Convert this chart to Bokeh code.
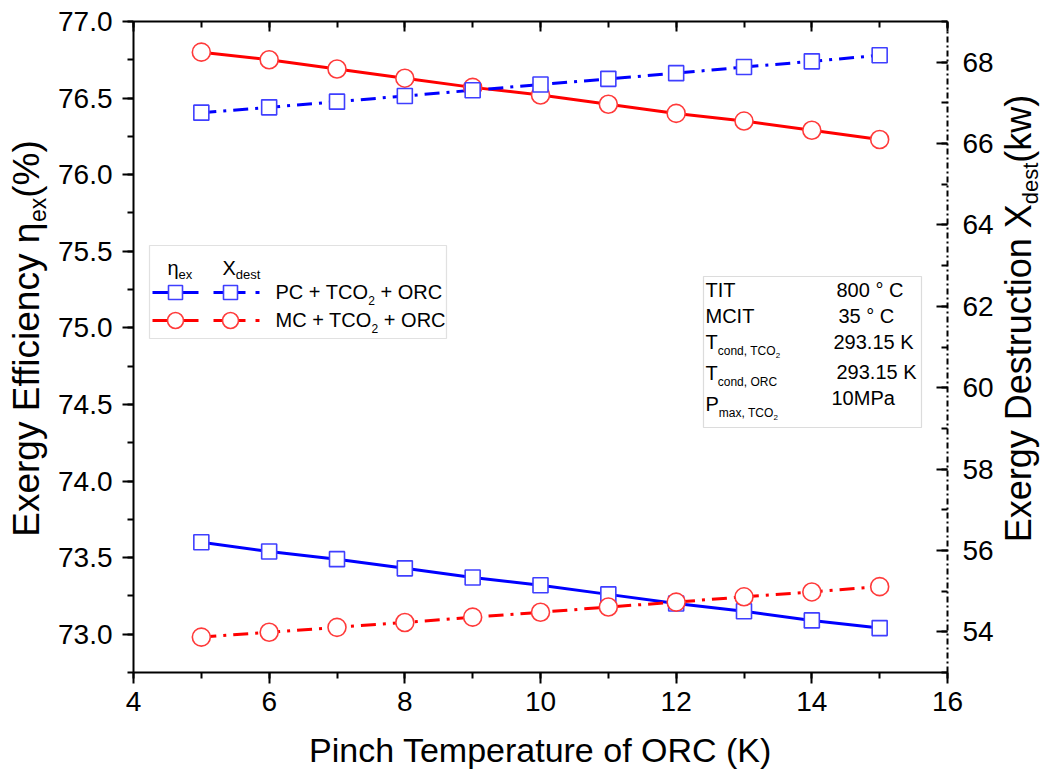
import math
from bokeh.plotting import figure
from bokeh.models import (Range1d, LinearAxis, SingleIntervalTicker, Label, BoxAnnotation,
                          CustomJSTickFormatter, NumeralTickFormatter)
from bokeh.embed import file_html
from bokeh.resources import INLINE

# ---------------- data ----------------
pinch = [5, 6, 7, 8, 9, 10, 11, 12, 13, 14, 15]
eta_pc = [73.60, 73.54, 73.49, 73.43, 73.37, 73.32, 73.26, 73.20, 73.15, 73.09, 73.04]
eta_mc = [76.80, 76.75, 76.69, 76.63, 76.57, 76.52, 76.46, 76.40, 76.35, 76.29, 76.23]
xdest_pc = [66.76, 66.89, 67.03, 67.17, 67.31, 67.45, 67.59, 67.73, 67.88, 68.02, 68.17]
xdest_mc = [53.87, 53.99, 54.11, 54.23, 54.36, 54.48, 54.61, 54.73, 54.86, 54.98, 55.11]

x_ticks = [4, 6, 8, 10, 12, 14, 16]
left_ticks = [73.0, 73.5, 74.0, 74.5, 75.0, 75.5, 76.0, 76.5, 77.0]
right_ticks = [54, 56, 58, 60, 62, 64, 66, 68]

info_names = ["TIT", "MCIT"]
info_values = ["800 ° C", "35 ° C", "293.15 K", "293.15 K", "10MPa"]

# ---------------- layout ----------------
FONT = "Liberation Sans"
W, H = 1043, 775
FL, FT, FW, FH = 133, 21, 814, 651          # the axes box in page pixels
XMIN, XMAX = 4, 16
YMIN, YMAX = 72.75, 77.0
RMIN, RMAX = 53, 69


def ext(lo, hi, before, size, after):
    per = (hi - lo) / size
    return lo - before * per, hi + after * per


x0, x1 = ext(XMIN, XMAX, FL, FW, W - FL - FW)
y0, y1 = ext(YMIN, YMAX, H - FT - FH, FH, FT)
r0, r1 = ext(RMIN, RMAX, H - FT - FH, FH, FT)

BLUE = "#0000FF"
RED = "#FF0000"
BLUE_M = "#3f3fff"
RED_M = "#ff3a3a"

p = figure(width=W, height=H, x_range=Range1d(x0, x1), y_range=Range1d(y0, y1),
           output_backend="svg", toolbar_location=None, title=None,
           x_axis_location=None, y_axis_location=None, min_border=0)
p.extra_y_ranges = {"right": Range1d(r0, r1)}
p.xgrid.visible = False
p.ygrid.visible = False
p.outline_line_color = None
p.background_fill_color = "white"
p.border_fill_color = "white"


def style_axis(ax, tin, tout, min_in, min_out, size="28px"):
    ax.axis_line_color = "black"
    ax.axis_line_width = 2
    ax.major_tick_line_color = "black"
    ax.major_tick_line_width = 2
    ax.minor_tick_line_color = "black"
    ax.minor_tick_line_width = 2
    ax.major_tick_in = tin
    ax.major_tick_out = tout
    ax.minor_tick_in = min_in
    ax.minor_tick_out = min_out
    ax.major_label_text_font = FONT
    ax.major_label_text_font_size = size
    ax.major_label_text_color = "black"


# bottom axis
xa = LinearAxis(ticker=SingleIntervalTicker(interval=x_ticks[1] - x_ticks[0], num_minor_ticks=2),
                fixed_location=YMIN, bounds=(XMIN, XMAX))
style_axis(xa, 0, 11, 0, 6)
xa.major_label_standoff = 8
p.add_layout(xa, "below")

# top axis (ticks inside, no labels)
ta = LinearAxis(ticker=SingleIntervalTicker(interval=x_ticks[1] - x_ticks[0], num_minor_ticks=2),
                formatter=CustomJSTickFormatter(code="return ''"),
                fixed_location=YMAX, bounds=(XMIN, XMAX))
style_axis(ta, 10, 0, 6, 0)
p.add_layout(ta, "above")

# left axis
ya = LinearAxis(ticker=SingleIntervalTicker(interval=left_ticks[1] - left_ticks[0], num_minor_ticks=2),
                formatter=NumeralTickFormatter(format="0.0"),
                fixed_location=XMIN, bounds=(YMIN, YMAX))
style_axis(ya, 0, 11, 0, 6)
ya.major_label_standoff = 10
p.add_layout(ya, "left")

# right axis
ra = LinearAxis(y_range_name="right",
                ticker=SingleIntervalTicker(interval=right_ticks[1] - right_ticks[0], num_minor_ticks=2),
                fixed_location=XMAX, bounds=(RMIN, RMAX))
style_axis(ra, 11, 0, 6, 0)
ra.axis_line_dash = "6 3 2 3"
ra.major_label_standoff = 15
p.add_layout(ra, "right")

# ---------------- series ----------------
DASHDOT = "15 7 3 7"
p.line(pinch, eta_pc, line_color=BLUE, line_width=3)
p.line(pinch, eta_mc, line_color=RED, line_width=3)
p.line(pinch, xdest_pc, line_color=BLUE, line_width=3, line_dash=DASHDOT, y_range_name="right")
p.line(pinch, xdest_mc, line_color=RED, line_width=3, line_dash=DASHDOT, y_range_name="right")

p.scatter(pinch, eta_pc, marker="square", size=15, line_color=BLUE_M, line_width=1.6, fill_color="white")
p.scatter(pinch, eta_mc, marker="circle", size=18, line_color=RED_M, line_width=1.6, fill_color="white")
p.scatter(pinch, xdest_pc, marker="square", size=15, line_color=BLUE_M, line_width=1.6,
          fill_color="white", y_range_name="right")
p.scatter(pinch, xdest_mc, marker="circle", size=18, line_color=RED_M, line_width=1.6,
          fill_color="white", y_range_name="right")

# ---------------- text helpers ----------------
AW = {' ': 278, '(': 333, ')': 333, '%': 889, '+': 584, ',': 278, '.': 278, '°': 400,
      'A': 667, 'C': 722, 'D': 722, 'E': 667, 'I': 278, 'K': 667, 'M': 833, 'O': 778,
      'P': 667, 'R': 722, 'T': 611, 'X': 667, 'a': 556, 'c': 500, 'd': 556, 'e': 556,
      'f': 278, 'g': 556, 'h': 556, 'i': 222, 'k': 500, 'l': 222, 'm': 833, 'n': 556,
      'o': 556, 'p': 556, 'r': 333, 's': 500, 't': 278, 'u': 556, 'w': 722, 'x': 500,
      'y': 500, 'η': 556}
BASE_FIX = 0.36   # rendered baseline sits this many font-sizes below the anchor


def tw(s, size):
    return sum(AW.get(c, 556) for c in s) * size / 1000.0


def lab(px, py, text, size, angle=0.0, align="left", color="black"):
    if angle == 0.0:
        py = py - BASE_FIX * size
    else:
        px = px - BASE_FIX * size
    p.add_layout(Label(x=XMIN, y=YMAX, x_offset=px - FL, y_offset=FT - py, text=text,
                       text_font=FONT, text_font_size=f"{size}px", angle=angle,
                       text_align=align, text_baseline="alphabetic", text_color=color))


def rich(px, py, parts):
    for t, size, d in parts:
        lead = len(t) - len(t.lstrip(" "))
        px += tw(" " * lead, size)
        t = t.lstrip(" ")
        lab(px, py + d, t, size)
        px += tw(t, size)


def rich_v(px, py, parts):
    for t, size, d in parts:
        lab(px + d, py, t, size, angle=math.pi / 2)
        py -= tw(t, size)


def dx(px):
    return XMIN + (px - FL) * (XMAX - XMIN) / FW


def dy(py):
    return YMAX - (py - FT) * (YMAX - YMIN) / FH


# ---------------- axis titles ----------------
lab(FL + FW / 2, 762, "Pinch Temperature of ORC (K)", 34, align="center")

left_parts = [("Exergy Efficiency η", 37, 0), ("ex", 23, 7), ("(%)", 37, 0)]
L = sum(tw(t, s) for t, s, _ in left_parts)
rich_v(39, 338 + L / 2, left_parts)

right_parts = [("Exergy Destruction X", 36, 0), ("dest", 22, 7), ("(kw)", 36, 0)]
R = sum(tw(t, s) for t, s, _ in right_parts)
rich_v(1031, 318 + R / 2, right_parts)

# ---------------- legend ----------------
p.add_layout(BoxAnnotation(left=dx(149), right=dx(446), top=dy(245), bottom=dy(338),
                           fill_color=None, line_color="#9a9a9a", line_width=1.2))
rich(167, 275, [("η", 20, 0), ("ex", 13, 4)])
rich(222, 275, [("X", 20, 0), ("dest", 13, 4)])

for row_y, col, mcol, mk, msize, name in [(292, BLUE, BLUE_M, "square", 14, "PC + TCO"),
                                          (320, RED, RED_M, "circle", 16, "MC + TCO")]:
    p.line([dx(152), dx(198)], [dy(row_y)] * 2, line_color=col, line_width=3)
    p.line([dx(213), dx(245)], [dy(row_y)] * 2, line_color=col, line_width=3)
    p.line([dx(255), dx(259)], [dy(row_y)] * 2, line_color=col, line_width=3)
    p.scatter([dx(175), dx(230)], [dy(row_y)] * 2, marker=mk, size=msize, line_color=mcol,
              line_width=1.6, fill_color="white")
    rich(275, row_y + 7, [(name, 20, 0), ("2", 12, 5), (" + ORC", 20, 0)])

# ---------------- info box ----------------
p.add_layout(BoxAnnotation(left=dx(703), right=dx(921), top=dy(276), bottom=dy(427),
                           fill_color=None, line_color="#8a8a8a", line_width=1.2))
lab(705, 297, info_names[0], 20)
lab(705, 323, info_names[1], 20)
rich(705, 349, [("T", 20, 0), ("cond, TCO", 12, 6), ("2", 8, 9)])
rich(705, 380, [("T", 20, 0), ("cond, ORC", 12, 6)])
rich(705, 411, [("P", 20, 0), ("max, TCO", 12, 6), ("2", 8, 9)])
lab(836, 297, info_values[0], 20)
lab(838, 323, info_values[1], 20)
lab(833, 349, info_values[2], 20)
lab(836, 379, info_values[3], 20)
lab(831, 405, info_values[4], 20)

open("out.html", "w").write(file_html(p, INLINE))
